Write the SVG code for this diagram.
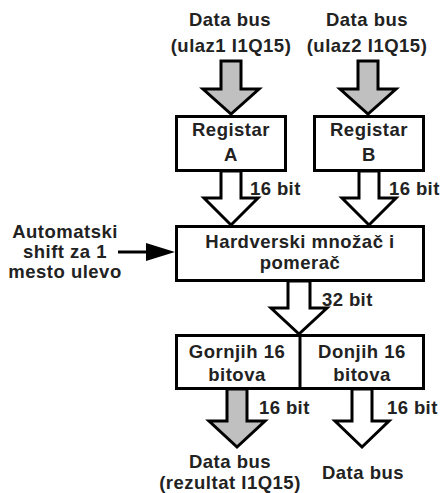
<svg xmlns="http://www.w3.org/2000/svg" width="441" height="493" viewBox="0 0 441 493">
<defs>
<style>
.t{font-family:"Liberation Sans",Arial,sans-serif;font-weight:bold;font-size:18.5px;letter-spacing:0.5px;fill:#222;text-anchor:middle}
.l{font-family:"Liberation Sans",Arial,sans-serif;font-weight:bold;font-size:18.5px;letter-spacing:0.4px;fill:#222;text-anchor:start}
.box{fill:#fff;stroke:#000;stroke-width:3}
.ga{fill:#c0c0c0;stroke:#000;stroke-width:3;stroke-linejoin:miter}
.wa{fill:#fff;stroke:#000;stroke-width:3;stroke-linejoin:miter}
</style>
</defs>
<rect width="441" height="493" fill="#fff"/>
<g id="connectors">
<polygon class="ga" points="221,61 241,61 241,89 259,89 231,114 203,89 221,89"/>
<polygon class="ga" points="358,61 378,61 378,89 396,89 368,114 340,89 358,89"/>
<polygon class="wa" points="221,171 241,171 241,198 258,198 231,225 204,198 221,198"/>
<polygon class="wa" points="359,171 379,171 379,198 396,198 369,225 342,198 359,198"/>
<polygon class="wa" points="288,281 310,281 310,308 327,308 299,334 271,308 288,308"/>
<polygon class="ga" points="227,389 247,389 247,421 265,421 237,447 209,421 227,421"/>
<polygon class="wa" points="352,389 372,389 372,421 389,421 362,447 335,421 352,421"/>
<line x1="118" y1="252" x2="150" y2="252" stroke="#000" stroke-width="3"/>
<polygon points="146,243 175,252 146,261" fill="#000"/>
<text class="l" x="250" y="195">16 bit</text>
<text class="l" x="389" y="195">16 bit</text>
<text class="l" x="322" y="306">32 bit</text>
<text class="l" x="259" y="414">16 bit</text>
<text class="l" x="387" y="414">16 bit</text>
</g>
<g id="in1">
<text class="t" x="230" y="26">Data bus</text>
<text class="t" x="231" y="52">(ulaz1 I1Q15)</text>
</g>
<g id="in2">
<text class="t" x="367" y="26">Data bus</text>
<text class="t" x="367" y="52">(ulaz2 I1Q15)</text>
</g>
<g id="regA">
<rect class="box" x="176.5" y="116.5" width="109" height="54"/>
<text class="t" x="231" y="136">Registar</text>
<text class="t" x="231" y="161">A</text>
</g>
<g id="regB">
<rect class="box" x="314.5" y="116.5" width="109" height="54"/>
<text class="t" x="369" y="136">Registar</text>
<text class="t" x="369" y="161">B</text>
</g>
<g id="shift">
<text class="t" x="65" y="238">Automatski</text>
<text class="t" x="65" y="258">shift za 1</text>
<text class="t" x="65" y="278">mesto ulevo</text>
</g>
<g id="mult">
<rect class="box" x="176.5" y="226.5" width="247" height="54"/>
<text class="t" x="300" y="248">Hardverski množač i</text>
<text class="t" x="300" y="269">pomerač</text>
</g>
<g id="out">
<rect class="box" x="176.5" y="335.5" width="247" height="53"/>
<line x1="300" y1="335" x2="300" y2="389" stroke="#000" stroke-width="3"/>
<text class="t" x="237" y="358">Gornjih 16</text>
<text class="t" x="237" y="381">bitova</text>
<text class="t" x="362" y="358">Donjih 16</text>
<text class="t" x="362" y="381">bitova</text>
</g>
<g id="outHi">
<text class="t" x="230" y="468">Data bus</text>
<text class="t" x="230" y="489">(rezultat I1Q15)</text>
</g>
<g id="outLo">
<text class="t" x="363" y="479">Data bus</text>
</g>
</svg>
